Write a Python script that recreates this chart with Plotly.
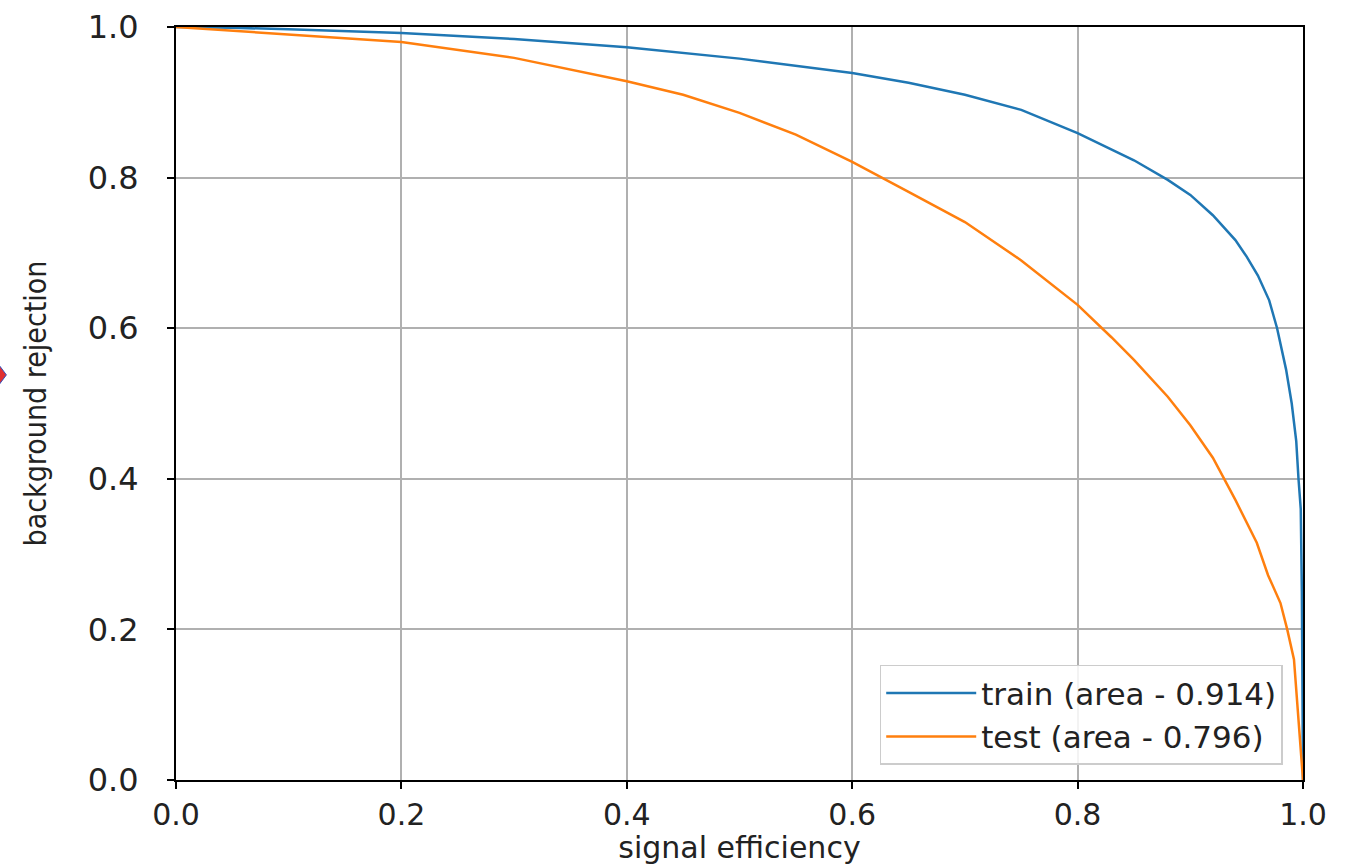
import plotly.graph_objects as go

# ROC-style curves
train_x = [0.0, 0.05, 0.1, 0.2, 0.3, 0.4, 0.5, 0.6, 0.65, 0.7, 0.75, 0.8, 0.85, 0.88, 0.9,
           0.92, 0.94, 0.95, 0.96, 0.97, 0.977, 0.985, 0.99, 0.994, 0.996, 0.998, 0.999, 1.0]
train_y = [1.0, 0.999, 0.997, 0.992, 0.984, 0.973, 0.958, 0.939, 0.926, 0.910, 0.890, 0.859, 0.823, 0.797, 0.777,
           0.750, 0.717, 0.695, 0.670, 0.637, 0.600, 0.545, 0.500, 0.45, 0.40, 0.36, 0.25, 0.0]

test_x = [0.0, 0.1, 0.2, 0.3, 0.4, 0.45, 0.5, 0.55, 0.6, 0.65, 0.7, 0.75, 0.8, 0.83, 0.85,
          0.88, 0.9, 0.92, 0.94, 0.959, 0.969, 0.98, 0.986, 0.992, 0.996, 1.0]
test_y = [1.0, 0.99, 0.98, 0.959, 0.928, 0.91, 0.886, 0.857, 0.821, 0.781, 0.741, 0.69, 0.631, 0.588, 0.558,
          0.509, 0.471, 0.428, 0.372, 0.315, 0.272, 0.235, 0.2, 0.16, 0.08, 0.0]

series_names = ["train (area - 0.914)", "test (area - 0.796)"]
series_colors = ["#1f77b4", "#ff7f0e"]

tick_vals = [0.0, 0.2, 0.4, 0.6, 0.8, 1.0]
tick_text = ["0.0", "0.2", "0.4", "0.6", "0.8", "1.0"]

FONT = "DejaVu Sans, Verdana, sans-serif"

fig = go.Figure()
fig.add_trace(go.Scatter(x=train_x, y=train_y, mode="lines", name=series_names[0],
                         line=dict(color=series_colors[0], width=2.5)))
fig.add_trace(go.Scatter(x=test_x, y=test_y, mode="lines", name=series_names[1],
                         line=dict(color=series_colors[1], width=2.5)))

axis_common = dict(
    range=[0, 1], tickvals=tick_vals, ticktext=tick_text,
    showgrid=True, gridcolor="#b0b0b0", gridwidth=1.5,
    zeroline=False, showline=True, linecolor="black", linewidth=2,
    mirror=True, ticks="outside", ticklen=7, tickwidth=1.5, tickcolor="black",
    automargin=False,
)

fig.update_layout(
    width=1350, height=865,
    margin=dict(l=176, r=47, t=27, b=85),
    paper_bgcolor="white", plot_bgcolor="white",
    xaxis=dict(**axis_common,
               tickfont=dict(family=FONT, size=30, color="#222222"),
               title=dict(text="signal efficiency", standoff=6,
                          font=dict(family=FONT, size=30, color="#222222"))),
    yaxis=dict(**axis_common, ticklabelstandoff=22,
               tickfont=dict(family=FONT, size=32, color="#222222"),
               title=dict(text="background rejection", standoff=32,
                          font=dict(family="DejaVu Sans Condensed, DejaVu Sans, sans-serif",
                                    size=30, color="#222222"))),
    legend=dict(x=0.982, y=0.02, xanchor="right", yanchor="bottom",
                bgcolor="rgba(255,255,255,0.85)", bordercolor="#cccccc", borderwidth=1.5,
                font=dict(family=FONT, size=31, color="#222222"),
                itemwidth=90, tracegroupgap=0),
    showlegend=True,
)

# small decorative marker at the left edge of the reference
fig.add_shape(type="path", xref="paper", yref="paper",
              path="M -0.158 0.553 L -0.1505 0.538 L -0.158 0.523 Z",
              fillcolor="#e03030", line=dict(color="#3050c0", width=1))

fig.write_html("out.html")
